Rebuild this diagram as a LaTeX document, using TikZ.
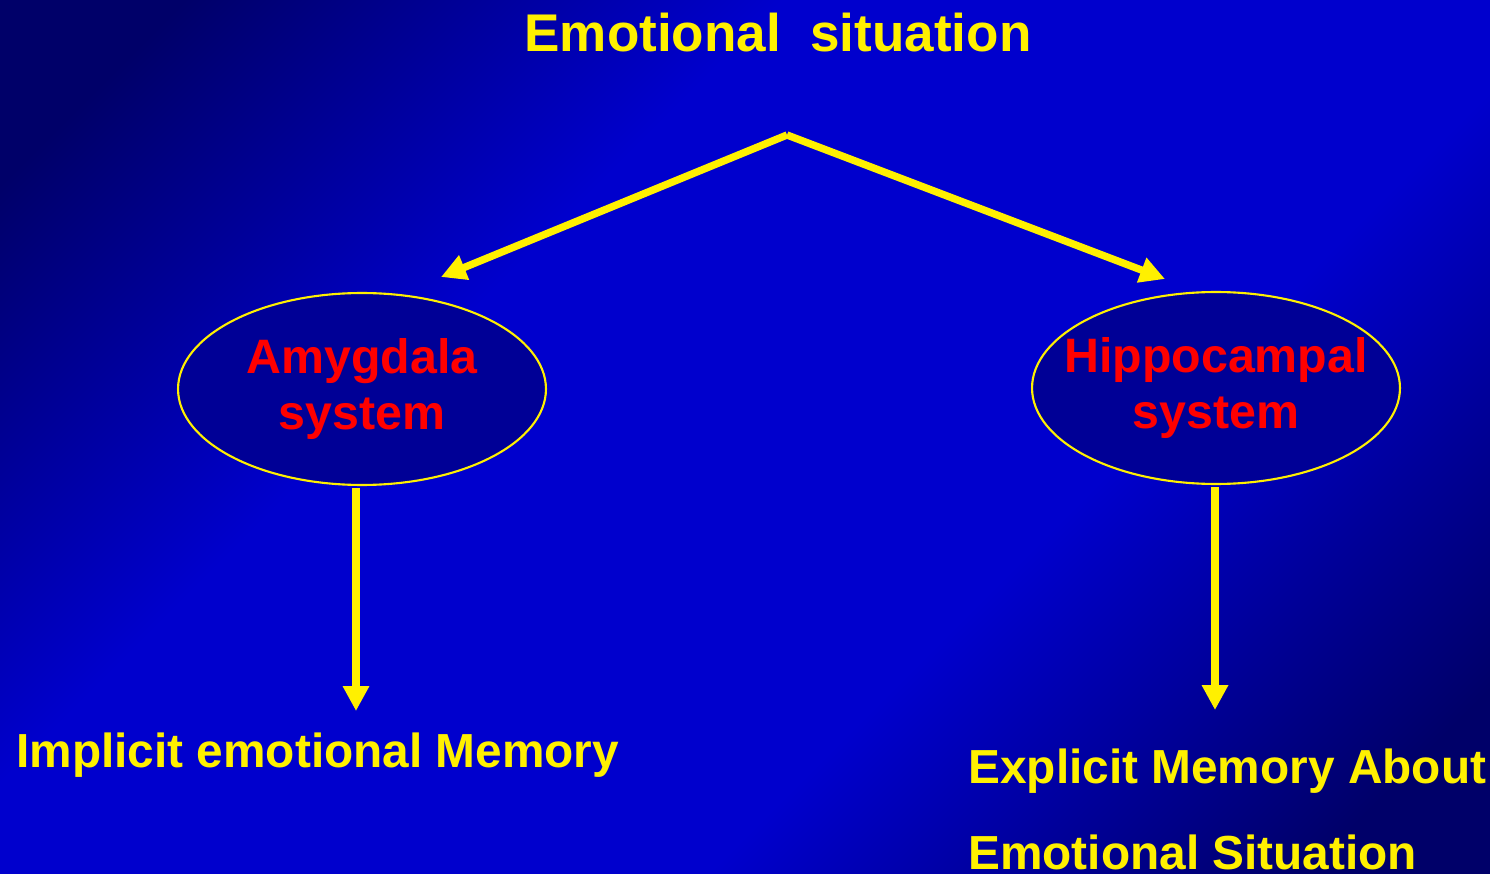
\documentclass[tikz,border=0pt]{standalone}
\usepackage{fontspec}
\setmainfont{Liberation Sans}
\usetikzlibrary{arrows.meta,shapes.geometric}
\definecolor{slidedark}{RGB}{0,0,105}
\definecolor{slideblue}{RGB}{0,0,205}
\definecolor{ovalfill}{RGB}{0,0,150}
\definecolor{txtyellow}{RGB}{255,240,0}
\pgfdeclareverticalshading{slidebg}{100bp}{color(0bp)=(slidedark); color(20bp)=(slidedark);
  color(38bp)=(slideblue); color(62bp)=(slideblue); color(80bp)=(slidedark); color(100bp)=(slidedark)}
\tikzset{
  sysbox/.style={ellipse,draw=txtyellow,line width=1.2pt,fill=ovalfill,
    minimum width=7.36cm,minimum height=3.84cm,inner xsep=-1.5cm,inner ysep=0pt,align=center,
    text=red,font=\fontsize{27.5}{32.3}\selectfont\bfseries},
  outtext/.style={text=txtyellow,inner sep=0pt,font=\fontsize{27.2}{32}\selectfont\bfseries},
  flow/.style={draw=txtyellow,line width=4.2pt,-{Triangle[length=0.5cm,width=0.5cm]}}
}
\begin{document}
\begin{tikzpicture}[x=0.02cm,y=-0.02cm]
    \fill[shading=slidebg,shading angle=45] (0,0) rectangle (1490,874);
    \useasboundingbox (0,0) rectangle (1490,874);

    \node at (778,52) [anchor=base,outtext,font=\fontsize{30.2}{36}\selectfont\bfseries] (sit) {Emotional\ \ situation};
    \coordinate (apex) at (787,135);
    \coordinate (amyin) at (441,277);
    \coordinate (hipin) at (1165,279);

    \node at (362,389) [sysbox] (amy) {Amygdala\\system};
    \node at (1216,388) [sysbox] (hip) {Hippocampal\\system};
    \draw[flow] (apex)--(amyin);
    \draw[flow] (apex)--(hipin);

    \node at (16,767) [anchor=base west,outtext] (imp) {Implicit emotional Memory};
    \node at (968,783) [anchor=base west,outtext] (exp1) {Explicit Memory About};
    \node at (968,869) [anchor=base west,outtext] (exp2) {Emotional Situation};
    \draw[flow] ([shift={(-6,2)}]amy.south)--++(0,223);
    \draw[flow] ([shift={(-1,2)}]hip.south)--++(0,223);

\end{tikzpicture}
\end{document}
